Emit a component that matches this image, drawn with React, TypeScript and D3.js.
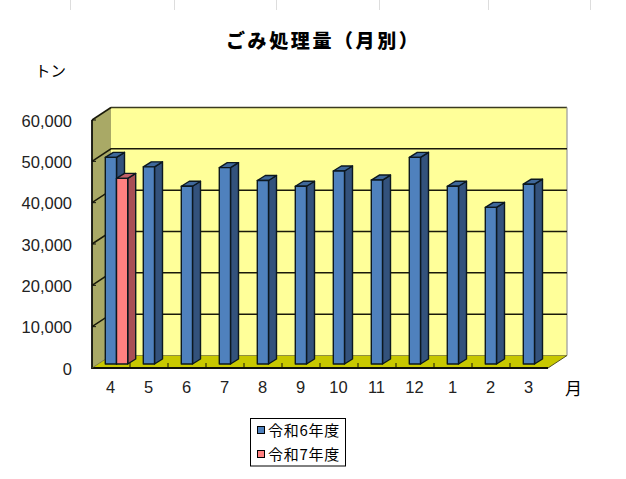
import React from "react";
import * as d3 from "d3";

const months = ["4", "5", "6", "7", "8", "9", "10", "11", "12", "1", "2", "3"];
const reiwa6 = [50000, 47700, 43000, 47500, 44400, 43000, 46700, 44500, 50000, 43000, 37900, 43500];
const reiwa7 = [44900];
const yTicks = [0, 10000, 20000, 30000, 40000, 50000, 60000];
const topStubs = [70, 174, 276, 379, 488, 590];

const W = 626, H = 479;
const DX = 19, DY = -12.5;
const BLUE = ["#4f81bd", "#33527c", "#3f689a"];
const RED = ["#ff8080", "#a84f55", "#c0606a"];
const LINE = "#1a1a0a";

function Bar({ x0, w, y, base, c }: { x0: number; w: number; y: number; base: number; c: string[] }) {
  const dx = 8, dy = -5;
  return (
    <g stroke="#0c1820" strokeWidth={1.4} strokeLinejoin="round">
      <path d={`M${x0 + w},${y} L${x0 + w + dx},${y + dy} L${x0 + w + dx},${base + dy} L${x0 + w},${base} Z`} fill={c[1]} />
      <path d={`M${x0},${y} L${x0 + dx},${y + dy} L${x0 + w + dx},${y + dy} L${x0 + w},${y} Z`} fill={c[2]} />
      <rect x={x0} y={y} width={w} height={base - y} fill={c[0]} />
    </g>
  );
}

export default function App() {
  const x = d3.scaleBand<string>().domain(months.map((m, i) => i + "")).range([92, 548]);
  const y = d3.scaleLinear().domain([0, 60000]).range([368, 120]);
  const h0 = y(0) - 4;
  const scale = (v: number) => h0 - (y(0) - y(v));
  const sans = "'Noto Sans CJK JP','Liberation Sans',sans-serif";
  const latin = "'Liberation Sans',sans-serif";
  return (
    <svg width={W} height={H} viewBox={`0 0 ${W} ${H}`} style={{ position: "absolute", left: 0, top: 0, background: "#fff" }}>
      {topStubs.map((s) => <line key={s} x1={s + 0.5} x2={s + 0.5} y1={0} y2={10} stroke="#dddddd" />)}
      <text x={226} y={47.5} fontFamily={sans} fontWeight={900} fontSize={19} letterSpacing={2.6} fill="#000">ごみ処理量（月別）</text>
      <text x={35} y={77} fontFamily={sans} fontWeight={400} fontSize={15.5} fill="#000">トン</text>
      <text x={565} y={395} fontFamily={sans} fontWeight={400} fontSize={17} fill="#000">月</text>

      {/* back wall */}
      <rect x={92 + DX} y={y(60000) + DY} width={456} height={248} fill="#ffff99" />
      <path d={`M${92 + DX},${y(60000) + DY} H${548 + DX}`} stroke="#3a3a20" strokeWidth={1.5} fill="none" />
      <path d={`M${548 + DX},${y(60000) + DY} V${y(0) + DY} `} stroke="#a0a0a0" strokeWidth={1.3} fill="none" />
      {/* side wall */}
      <path d={`M92,${y(60000)} L${92 + DX},${y(60000) + DY} V${y(0) + DY} L92,${y(0)} Z`} fill="#a9a966" stroke="none" />
      {/* floor */}
      <path d={`M92,368 L${92 + DX},${368 + DY} H${548 + DX} L548,368 Z`} fill="#c8c800" />
      <path d={`M${92 + DX},${368 + DY} H${548 + DX}`} stroke="#8f8f40" strokeWidth={1} />
      <path d={`M${548 + DX},${368 + DY} L548,368`} stroke="#555520" strokeWidth={1} />
      {/* gridlines */}
      {yTicks.slice(1, 6).map((t) => (
        <path key={t} d={`M92,${y(t)} L${92 + DX},${y(t) + DY} H${548 + DX}`} fill="none" stroke={LINE} strokeWidth={1.5} />
      ))}
      <path d={`M92,${y(60000)} L${92 + DX},${y(60000) + DY}`} stroke={LINE} fill="none" strokeWidth={1.5} />
      {/* axes */}
      <path d={`M92,${y(60000)} V368 H548`} fill="none" stroke="#10100a" strokeWidth={1.8} />
      <path d={`M92,368 L${92 + DX},${368 + DY}`} stroke="#7a7a40" />
      {yTicks.map((t) => <line key={t} x1={92} x2={96} y1={y(t)} y2={y(t)} stroke="#10100a" />)}
      {months.map((m, i) => i > 0 && (
        <line key={i} x1={x(i + "")!} x2={x(i + "")!} y1={368} y2={363} stroke="#10100a" />
      ))}
      {/* bars */}
      {months.map((m, i) => {
        const x0 = x(i + "")! + 13.3;
        return (
          <g key={i}>
            <Bar x0={x0} w={11.2} y={scale(reiwa6[i])} base={h0} c={BLUE} />
            {reiwa7[i] !== undefined && <Bar x0={x0 + 11.2} w={11.2} y={scale(reiwa7[i])} base={h0} c={RED} />}
          </g>
        );
      })}
      {/* tick labels */}
      {yTicks.map((t) => (
        <text key={t} x={72} y={y(t) + 6.5} textAnchor="end" fontFamily={latin} fontSize={16.5} fill="#222">{d3.format(",")(t)}</text>
      ))}
      {months.map((m, i) => (
        <text key={i} x={x(i + "")! + 18.5} y={392.5} textAnchor="middle" fontFamily={latin} fontSize={16.5} fill="#222">{m}</text>
      ))}
      {/* legend */}
      <rect x={250.5} y={418.5} width={95} height={47.5} fill="#fff" stroke="#000" strokeWidth={1} />
      {[["令和6年度", BLUE[0]], ["令和7年度", RED[0]]].map(([t, c], i) => (
        <g key={t}>
          <rect x={257.5} y={426.5 + i * 24} width={7} height={7} fill={c} stroke="#000" />
          <text x={268} y={435.5 + i * 24} fontFamily={sans} fontWeight={400} fontSize={15} fill="#000" letterSpacing={0.7}>{t}</text>
        </g>
      ))}
    </svg>
  );
}
